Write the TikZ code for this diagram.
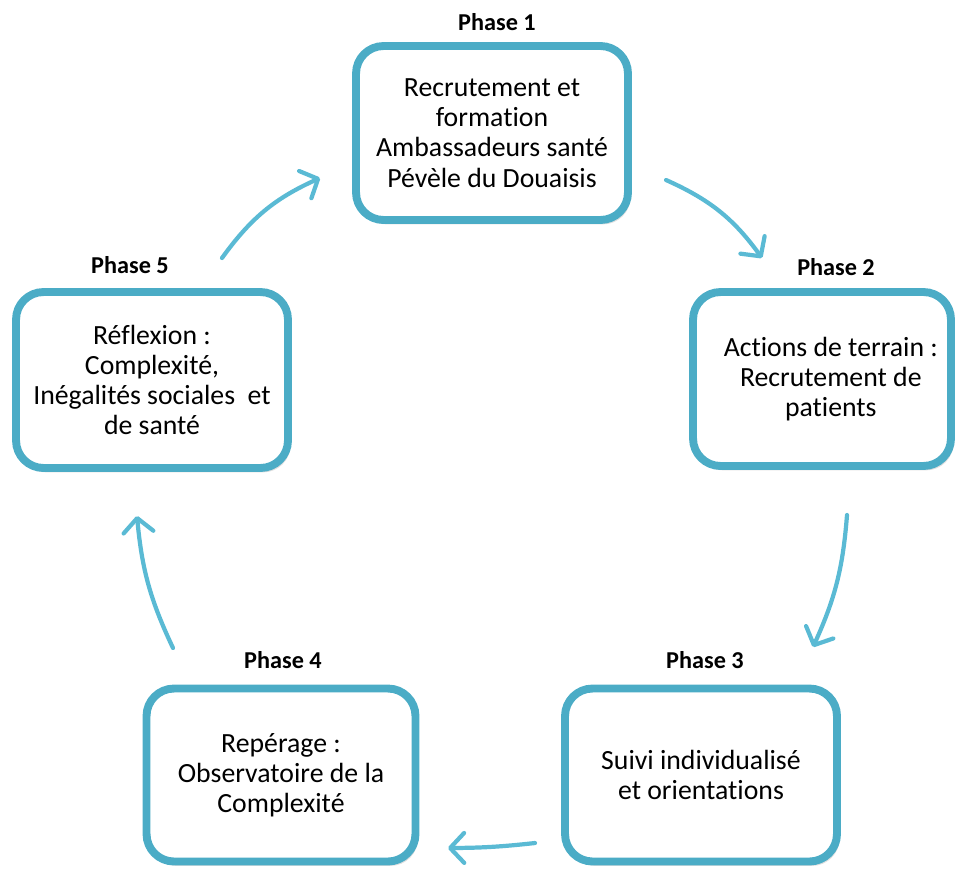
\documentclass[tikz,border=0pt]{standalone}
\usepackage{fontspec}
\setmainfont{Carlito}[Ligatures=NoCommon]
\usepackage{tikz}
\usetikzlibrary{arrows.meta,shadows}

\definecolor{boxblue}{RGB}{75,172,198}
\definecolor{arrowblue}{RGB}{90,186,212}

\begin{document}
\begin{tikzpicture}[x=0.02cm,y=-0.02cm]
\tikzset{
	phase box/.style = {draw = boxblue, line width = 4.5pt, rounded corners = 0.55cm, fill = white,
		minimum width = 5.44cm, minimum height = 3.48cm, align = center,
		font = \fontsize{15.8}{17.2}\selectfont,
		drop shadow = {shadow xshift = 1.5pt, shadow yshift = -2.5pt, opacity = 0.25}},
	phase label/.style = {font = \fontsize{13.8}{16}\selectfont\bfseries},
	cycle arrow/.style = {draw = arrowblue, line width = 2.4pt, line cap = round,
		-{Straight Barb[length = 8pt, width = 17pt, round]}},
}
\useasboundingbox (0,0) rectangle (955,869);

% boxes
\node(p1)[phase box] at (492,133) {Recrutement et\\formation\\Ambassadeurs santé\\Pévèle du Douaisis};
\node(p2)[phase box, minimum width = 5.16cm, inner xsep = 0pt] at (822,379) {\hspace*{10pt}Actions de terrain :\\\hspace*{10pt}Recrutement de\\\hspace*{10pt}patients};
\node(p3)[phase box, minimum height = 3.46cm] at (701,775) {Suivi individualisé\\et orientations};
\node(p4)[phase box, minimum width = 5.38cm, minimum height = 3.46cm] at (281,775) {Repérage :\\Observatoire de la\\Complexité};
\node(p5)[phase box, minimum height = 3.52cm] at (152,380) {Réflexion :\\Complexité,\\Inégalités sociales~ et\\de santé};

% labels
\node(l1)[phase label] at (497,22) {Phase 1};
\node(l2)[phase label] at (836,267) {Phase 2};
\node(l3)[phase label] at (705,660) {Phase 3};
\node(l4)[phase label] at (283,660) {Phase 4};
\node(l5)[phase label] at (130,265) {Phase 5};

% arrow ends
\coordinate (s1) at (666,180); \coordinate (e1) at (762,258);
\coordinate (s2) at (847,515); \coordinate (e2) at (813,647);
\coordinate (s3) at (535,843); \coordinate (e3) at (448,848);
\coordinate (s4) at (173,648); \coordinate (e4) at (137,516);
\coordinate (s5) at (222,258); \coordinate (e5) at (320,178);

\foreach \i/\b in {1/15,2/10,3/3,4/10,5/15} \draw[cycle arrow] (s\i) to[bend left = \b] (e\i);

\end{tikzpicture}
\end{document}
